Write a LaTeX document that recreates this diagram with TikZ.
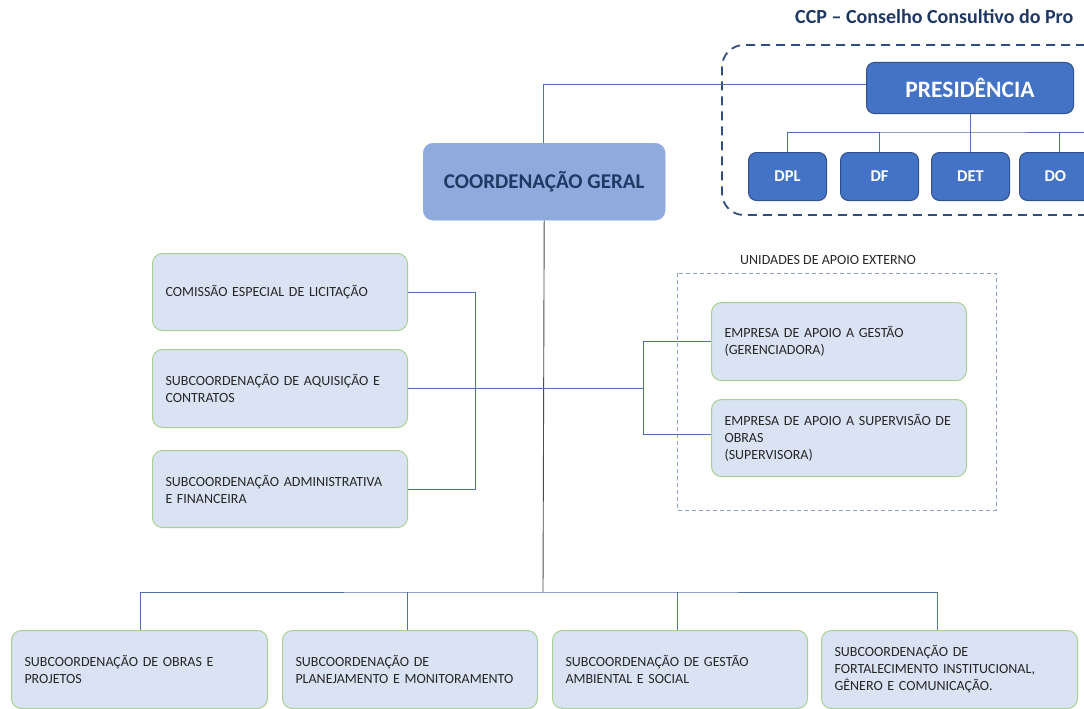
\documentclass[tikz,border=0pt]{standalone}
\usepackage{fontspec}
\setmainfont{Carlito}
\definecolor{lightfill}{HTML}{DAE3F3}
\definecolor{greenborder}{HTML}{A9D08E}
\definecolor{coordfill}{HTML}{8FAADC}
\definecolor{presfill}{HTML}{4472C4}
\definecolor{presborder}{HTML}{2F528F}
\definecolor{conn}{HTML}{5070B0}
\definecolor{navy}{HTML}{1F3864}
\definecolor{dashnavy}{HTML}{2F4D80}
\definecolor{lightdash}{HTML}{8FA0C8}
\definecolor{txt}{HTML}{262626}
\begin{document}
\begin{tikzpicture}[x=1pt,y=-1pt,
  lbox/.style={draw=greenborder, fill=lightfill, line width=1pt, rounded corners=10pt,
    anchor=north west, inner xsep=13pt, align=left, text=txt, font=\fontsize{14}{17}\selectfont},
  pbox/.style={draw=presborder, fill=presfill, line width=1pt, rounded corners=8pt,
    anchor=north west, text=white, font=\bfseries},
  dbox/.style={pbox, minimum width=78, minimum height=48, font=\bfseries\fontsize{16.5}{19}\selectfont},
  cline/.style={draw=conn, line width=0.9pt},
  tline/.style={draw=black!70, line width=0.9pt}]
\useasboundingbox (0,0) rectangle (1084,709);
\fill[white] (0,0) rectangle (1084,709);

% CCP title and dashed frame
\node[anchor=west, text=navy, font=\bfseries\fontsize{20}{23}\selectfont, inner sep=0] (ccp) at (795,17) {CCP – Conselho Consultivo do Pro};
\draw[dashnavy, line width=1.8pt, dash pattern=on 9pt off 6pt, rounded corners=22pt] (1100,45) -- (722,45) -- (722,215) -- (1100,215);

% Presidencia
\node[pbox, minimum width=207, minimum height=51, font=\bfseries\fontsize{23.5}{27}\selectfont] (pres) at (866,62) {PRESIDÊNCIA};
\node[dbox] (dpl) at (748,152) {DPL};
\node[dbox] (df) at (840,152) {DF};
\node[dbox] (det) at (931,152) {DET};
\node[dbox, minimum width=80, text width=60, align=left, inner xsep=10pt] (do) at (1019,152) {\hspace*{15pt}DO};

\coordinate (pbar) at (970,132);
\draw[cline] (pres.south) -- (pbar);
\draw[cline] (dpl.north) |- (pbar) -- (1084,132);
\draw[cline] (df.north) -- (df.north |- pbar);
\draw[cline] (det.north) -- (det.north |- pbar);
\draw[cline] (1059,152) -- (1059,132);

% Coordenacao geral
\node[draw=coordfill, fill=coordfill, rounded corners=10pt, anchor=north west, minimum width=242, minimum height=77,
  text=navy, font=\bfseries\fontsize{21}{24}\selectfont] (coord) at (423,143) {COORDENAÇÃO GERAL};
\coordinate (ptop) at (543,84);
\draw[cline] (pres.west |- ptop) -- (ptop) -- (coord.north -| ptop);

% trunk
\coordinate (tbot) at (543,592);
\draw[tline] (coord.south) -- (tbot);

% left group
\node[lbox, minimum width=255, minimum height=77, text width=229] (cel) at (152,253) {\mbox{COMISSÃO ESPECIAL DE LICITAÇÃO}};
\node[lbox, minimum width=255, minimum height=78, text width=229] (sac) at (152,349) {\mbox{SUBCOORDENAÇÃO DE AQUISIÇÃO E}\\CONTRATOS};
\node[lbox, minimum width=255, minimum height=77, text width=229] (saf) at (152,450) {\mbox{SUBCOORDENAÇÃO ADMINISTRATIVA}\\E FINANCEIRA};
\coordinate (lj) at (543,388);
\draw[cline] (cel.east) -| (475,388) -- (lj);
\draw[cline] (sac.east) -- (sac.east -| 475,0);
\draw[cline] (saf.east) -| (475,388);

% right group
\node[anchor=west, text=txt, font=\fontsize{14}{16}\selectfont, inner sep=0] (uae) at (740,260) {UNIDADES DE APOIO EXTERNO};
\draw[lightdash, line width=1pt, dash pattern=on 4pt off 3pt] (677,273) rectangle (996,510);
\node[lbox, minimum width=255, minimum height=78, text width=229] (eag) at (711,302) {\mbox{EMPRESA DE APOIO A GESTÃO}\\(GERENCIADORA)};
\node[lbox, minimum width=255, minimum height=77, text width=229] (eas) at (711,399) {\mbox{EMPRESA DE APOIO A SUPERVISÃO DE}\\OBRAS\\(SUPERVISORA)};
\draw[cline] (lj) -- (643,388);
\draw[cline] (eag.west) -| (643,434) -- (eas.west |- 0,434);

% bottom
\node[lbox, minimum width=256, minimum height=78, text width=230] (sop) at (11,630) {\mbox{SUBCOORDENAÇÃO DE OBRAS E}\\PROJETOS};
\node[lbox, minimum width=255, minimum height=78, text width=229] (spm) at (282,630) {SUBCOORDENAÇÃO DE\\\mbox{PLANEJAMENTO E MONITORAMENTO}};
\node[lbox, minimum width=255, minimum height=78, text width=229] (sga) at (552,630) {\mbox{SUBCOORDENAÇÃO DE GESTÃO}\\AMBIENTAL E SOCIAL};
\node[lbox, minimum width=256, minimum height=78, text width=230] (sfi) at (821,630) {SUBCOORDENAÇÃO DE\\\mbox{FORTALECIMENTO INSTITUCIONAL,}\\\mbox{GÊNERO E COMUNICAÇÃO.}};
\draw[cline] (140,630) |- (tbot) -| (937,630);
\draw[cline] (407,630) -- (407,592);
\draw[cline] (677,630) -- (677,592);
\end{tikzpicture}
\end{document}
